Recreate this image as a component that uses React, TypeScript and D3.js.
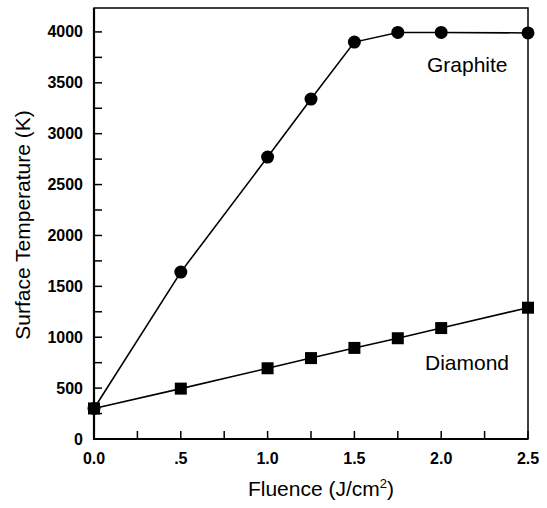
import React, { useEffect, useRef } from "react";
import * as d3 from "d3";

const fluence = [0, 0.5, 1.0, 1.25, 1.5, 1.75, 2.0, 2.5];
const graphite = [300, 1640, 2770, 3340, 3900, 3995, 3995, 3990];
const diamond = [300, 495, 695, 795, 895, 990, 1090, 1290];
const xTicks = [0, 0.5, 1.0, 1.5, 2.0, 2.5];
const xTickLabels = ["0.0", ".5", "1.0", "1.5", "2.0", "2.5"];
const yTicks = [0, 500, 1000, 1500, 2000, 2500, 3000, 3500, 4000];

const App = () => {
  const ref = useRef<SVGSVGElement>(null);

  useEffect(() => {
    const svg = d3.select(ref.current).attr("width", 547).attr("height", 508);
    svg.selectAll("*").remove();

    const x = d3.scaleLinear().domain([0, 2.5]).range([94, 528]);
    const y = d3.scaleLinear().domain([0, 4235]).range([439, 8]);
    const font = "Liberation Sans, Arial, sans-serif";

    // frame
    svg
      .append("rect")
      .attr("x", x(0))
      .attr("y", y(4235))
      .attr("width", x(2.5) - x(0))
      .attr("height", y(0) - y(4235))
      .attr("fill", "none")
      .attr("stroke", "#000")
      .attr("stroke-width", 1.5);
    svg
      .append("path")
      .attr("d", `M${x(0)},${y(4235)}V${y(0)}H${x(2.5)}`)
      .attr("fill", "none")
      .attr("stroke", "#000")
      .attr("stroke-width", 2.2);

    // ticks (inward)
    const xMinor = d3.range(0, 2.51, 0.25);
    svg
      .append("g")
      .selectAll("line")
      .data(xMinor)
      .join("line")
      .attr("x1", (d) => x(d))
      .attr("x2", (d) => x(d))
      .attr("y1", y(0))
      .attr("y2", y(0) - 8)
      .attr("stroke", "#000")
      .attr("stroke-width", 1.5);

    const yMinor = d3.range(0, 4001, 250);
    svg
      .append("g")
      .selectAll("line")
      .data(yMinor)
      .join("line")
      .attr("x1", x(0))
      .attr("x2", x(0) + 8)
      .attr("y1", (d) => y(d))
      .attr("y2", (d) => y(d))
      .attr("stroke", "#000")
      .attr("stroke-width", 1.5);

    svg
      .append("g")
      .selectAll("text")
      .data(xTicks)
      .join("text")
      .attr("x", (d) => x(d))
      .attr("y", 464)
      .attr("text-anchor", "middle")
      .attr("font-family", font)
      .attr("font-weight", "bold")
      .attr("font-size", 16)
      .text((d, i) => xTickLabels[i]);

    svg
      .append("g")
      .selectAll("text")
      .data(yTicks)
      .join("text")
      .attr("x", 83)
      .attr("y", (d) => y(d) + 5.5)
      .attr("text-anchor", "end")
      .attr("font-family", font)
      .attr("font-weight", "bold")
      .attr("font-size", 16)
      .text((d) => d);

    // axis titles
    const xt = svg
      .append("text")
      .attr("x", 321)
      .attr("y", 496)
      .attr("text-anchor", "middle")
      .attr("font-family", font)
      .attr("font-size", 21);
    xt.append("tspan").text("Fluence (J/cm");
    xt.append("tspan").attr("font-size", 13).attr("dy", -8).text("2");
    xt.append("tspan").attr("dy", 8).text(")");

    svg
      .append("text")
      .attr("transform", "translate(30,225) rotate(-90)")
      .attr("text-anchor", "middle")
      .attr("font-family", font)
      .attr("font-size", 21)
      .text("Surface Temperature (K)");

    // lines
    const line = d3
      .line<number>()
      .x((d, i) => x(fluence[i]))
      .y((d) => y(d));

    [graphite, diamond].forEach((s) => {
      svg
        .append("path")
        .datum(s)
        .attr("d", line)
        .attr("fill", "none")
        .attr("stroke", "#000")
        .attr("stroke-width", 1.6);
    });

    svg
      .append("g")
      .selectAll("rect")
      .data(diamond)
      .join("rect")
      .attr("x", (d, i) => x(fluence[i]) - 6)
      .attr("y", (d) => y(d) - 6)
      .attr("width", 12)
      .attr("height", 12)
      .attr("fill", "#000");

    svg
      .append("g")
      .selectAll("circle")
      .data(graphite)
      .join("circle")
      .attr("cx", (d, i) => x(fluence[i]))
      .attr("cy", (d) => y(d))
      .attr("r", 6.5)
      .attr("fill", "#000");

    // series labels
    svg
      .append("text")
      .attr("x", 427)
      .attr("y", 72)
      .attr("font-family", font)
      .attr("font-size", 21)
      .text("Graphite");
    svg
      .append("text")
      .attr("x", 425)
      .attr("y", 370)
      .attr("font-family", font)
      .attr("font-size", 21)
      .text("Diamond");
  }, []);

  return <svg ref={ref} style={{ position: "absolute", left: 0, top: 0 }}></svg>;
};

export default App;
